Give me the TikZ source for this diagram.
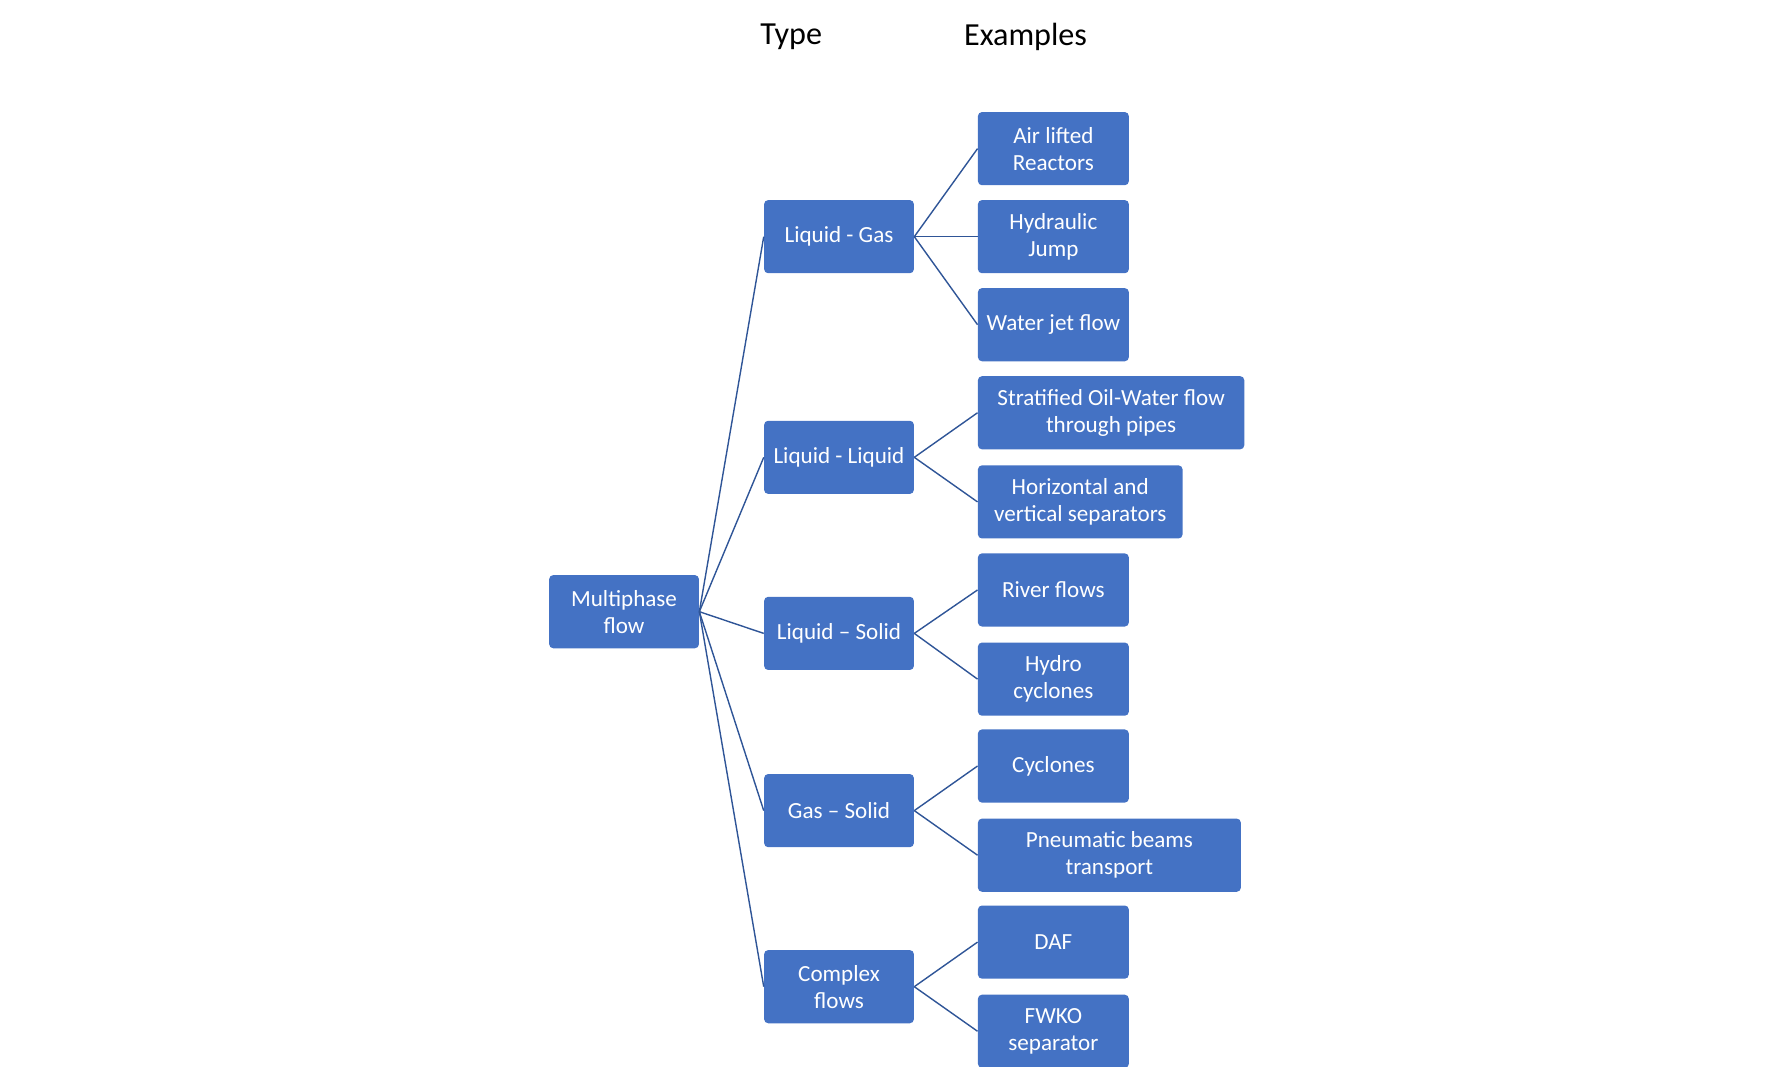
\documentclass[tikz,border=0pt]{standalone}
\usepackage{fontspec}
\setmainfont{Carlito}
\begin{document}
\begin{tikzpicture}[x=0.02cm,y=-0.02cm,
 box/.style={draw=none,fill={rgb,255:red,68;green,114;blue,196},text=white,rounded corners=2pt,
   minimum height=1.28cm,inner sep=2pt,align=center,font=\fontsize{11.5}{13.5}\selectfont,anchor=west},
 ln/.style={draw={rgb,255:red,47;green,85;blue,151},line width=0.7pt},
 hd/.style={font=\fontsize{16}{19}\selectfont}]
\useasboundingbox (0,0) rectangle (1556,933);
\node[hd] (ht) at (692,32) {Type};
\node[hd] (he) at (897,32) {Examples};
\node[box,minimum width=2.62cm] (m) at (480,535) {Multiphase\\flow};
\foreach \n/\y/\t in {lg/207/Liquid - Gas, ll/400/Liquid - Liquid, ls/554/Liquid -- Solid, gs/709/Gas -- Solid, cf/863/{Complex\\flows}}
  {\node[box,minimum width=2.62cm] (\n) at (668,\y) {\t}; \draw[ln] (m.east) -- (\n.west);}
\foreach \p/\n/\y/\w/\t in {lg/a1/130/2.64/{Air lifted\\Reactors}, lg/a2/207/2.64/{Hydraulic\\Jump}, lg/a3/284/2.64/{Water jet flow},
  ll/b1/361/4.66/{Stratified Oil-Water flow\\through pipes}, ll/b2/439/3.58/{Horizontal and\\vertical separators},
  ls/c1/516/2.64/{River flows}, ls/c2/594/2.64/{Hydro\\cyclones},
  gs/d1/670/2.64/{Cyclones}, gs/d2/748/4.6/{Pneumatic beams\\transport},
  cf/e1/824/2.64/{DAF}, cf/e2/902/2.64/{FWKO\\separator}}
  {\node[box,minimum width=\w cm] (\n) at (855,\y) {\t}; \draw[ln] (\p.east) -- (\n.west);}
\end{tikzpicture}
\end{document}
